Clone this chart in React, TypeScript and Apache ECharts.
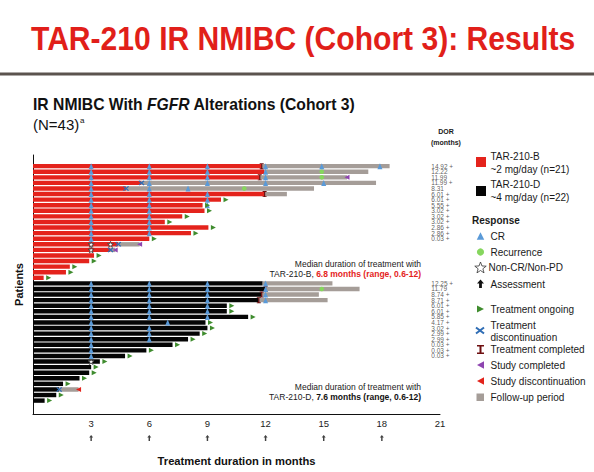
import React, { useEffect, useRef } from "react";
import * as echarts from "echarts";

// ---------- axis ----------
const xTickLabels = [3, 6, 9, 12, 15, 18, 21];
const assessmentMonths = [3, 6, 9, 12, 15, 18];

// ---------- TAR-210-B (~2 mg/day, n=21), rows 1..21 ----------
const treatB = [11.8, 11.95, 11.7, 5.6, 4.8, 11.95, 9.7, 8.75, 8.85, 7.7, 6.8, 9.05, 8.15, 6.0, 4.4, 4.0, 3.15, 2.9, 1.9, 1.7, 0.55];
const followB: (number | null)[] = [18.4, 17.3, 16.2, 17.7, 14.5, 13.1, null, null, null, null, null, null, null, null, 5.5, 4.24, null, null, null, null, null];
const crB: number[][] = [
  [3, 6, 9, 12, 14.9, 17.9],
  [3, 6, 9, 12],
  [3, 6, 9, 12],
  [3, 6, 9, 12, 15],
  [3, 6, 8],
  [3, 6, 9],
  [3, 6, 9],
  [3, 6, 9],
  [3, 6],
  [3, 6],
  [3, 6],
  [3, 6],
  [3, 6],
  [3],
  [], [], [], [], [], [], [],
];
const recurrenceB = [[2, 14.9], [3, 14.9], [5, 10.9]];
const nonCrB = [[15, 3], [15, 4.0], [16, 3]];
const discontB = [[4, 5.6], [5, 4.8], [15, 4.4], [16, 4.0]];
const completedB = [[1, 11.8], [3, 11.7], [6, 11.95]];
const studyCompletedB = [[3, 16.2], [15, 5.5], [16, 4.24]];
const ongoingB = [7, 8, 9, 10, 11, 12, 13, 14, 17, 18, 19, 20, 21];
const dorB = ["14.92 +", "12.22", "11.99", "11.99 +", "8.31", "6.01 +", "6.01 +", "5.55 +", "3.02 +", "3.02 +", "3.02 +", "2.86 +", "2.86 +", "0.03 +"];

// ---------- TAR-210-D (~4 mg/day, n=22), rows 1..22 ----------
const treatD = [11.85, 12.0, 11.8, 11.65, 10.0, 10.0, 11.1, 8.9, 9.0, 8.6, 8.0, 7.2, 5.85, 4.75, 3.45, 3.0, 2.9, 2.4, 1.55, 1.35, 1.2, 0.6];
const followD: (number | null)[] = [15.45, 16.85, 14.75, 15.2, null, null, null, null, null, null, null, null, null, null, null, null, null, null, null, 2.35, null, null];
const crD: number[][] = [
  [3, 6, 9, 12],
  [3, 6, 9, 12],
  [3, 6, 9, 12],
  [3, 6, 9, 12],
  [3, 6, 9],
  [3, 6, 9],
  [3, 6, 9],
  [3, 6.95],
  [3, 6],
  [3, 6],
  [3, 6],
  [3],
  [3],
  [3],
  [], [], [], [], [], [], [], [],
];
const recurrenceD = [[2, 14.9]];
const nonCrD = [[15, 3]];
const discontD = [[20, 1.35]];
const completedD = [[2, 12.0], [3, 11.8], [4, 11.65]];
const studyDiscD = [[20, 2.35]];
const ongoingD = [5, 6, 7, 8, 9, 10, 11, 12, 13, 14, 15, 16, 17, 18, 19, 21, 22];
const dorD = ["12.25 +", "11.79", "8.74 +", "8.71 +", "6.01 +", "6.01 +", "5.85 +", "4.17 +", "3.02 +", "2.99 +", "2.99 +", "0.03 +", "0.03 +", "0.03 +"];

// ---------- colours ----------
const RED = "#e4231c";
const BLACK = "#050505";
const GRAY = "#a59d98";
const CR_BLUE = "#5a9ad8";
const REC_GREEN = "#86d65e";
const ONGO_GREEN = "#3f8c2e";
const DISC_BLUE = "#2f6db5";
const COMP_RED = "#6e0f10";
const PURPLE = "#8e45b0";
const STUDY_RED = "#e2231b";
const FONT = "'Liberation Sans', Arial, sans-serif";

const N_B = treatB.length;
const rowB = (r: number) => r;
const rowD = (r: number) => N_B + r;

const STAR = "path://M50,0 L61,35 L98,35 L68,57 L79,91 L50,70 L21,91 L32,57 L2,35 L39,35 Z";
const CROSS = "path://M0,1.6 L1.6,0 L5,3.4 L8.4,0 L10,1.6 L6.6,5 L10,8.4 L8.4,10 L5,6.6 L1.6,10 L0,8.4 L3.4,5 Z";
const IBEAM = "path://M0,0 L10,0 L10,2 L6.5,2 L6.5,12 L10,12 L10,14 L0,14 L0,12 L3.5,12 L3.5,2 L0,2 Z";
const ARROW = "path://M5,0 L10,5 L6.8,5 L6.8,12 L3.2,12 L3.2,5 L0,5 Z";

function barSeries(name: string, data: number[][], color: string, z: number) {
  return {
    type: "custom",
    name,
    xAxisIndex: 0,
    yAxisIndex: 0,
    z,
    silent: true,
    encode: { x: [0, 1], y: 2 },
    data,
    renderItem: (_p: any, api: any) => {
      const s = api.coord([api.value(0), api.value(2)]);
      const e = api.coord([api.value(1), api.value(2)]);
      const h = 4.4;
      return {
        type: "rect",
        shape: { x: s[0], y: s[1] - h / 2, width: Math.max(e[0] - s[0], 0), height: h },
        style: { fill: color },
      };
    },
  };
}

function scatter(name: string, data: number[][], symbol: string, size: any, color: string, z: number, extra: any = {}) {
  return {
    type: "scatter",
    name,
    xAxisIndex: 0,
    yAxisIndex: 0,
    symbol,
    symbolSize: size,
    itemStyle: { color, opacity: 1 },
    z,
    silent: true,
    data,
    ...extra,
  };
}

const ev = (pairs: number[][], rowFn: (r: number) => number) => pairs.map(([r, m]) => [m, rowFn(r)]);

export default function App() {
  const ref = useRef<HTMLDivElement>(null);

  useEffect(() => {
    if (!ref.current) return;
    const chart = echarts.init(ref.current, undefined, { renderer: "svg" });

    const treatBarsB = treatB.map((v, i) => [0, v, rowB(i + 1)]);
    const treatBarsD = treatD.map((v, i) => [0, v, rowD(i + 1)]);
    const follow: number[][] = [];
    followB.forEach((v, i) => { if (v != null) follow.push([treatB[i], v, rowB(i + 1)]); });
    followD.forEach((v, i) => { if (v != null) follow.push([treatD[i], v, rowD(i + 1)]); });

    const cr: number[][] = [];
    crB.forEach((ms, i) => ms.forEach((m) => cr.push([m, rowB(i + 1)])));
    crD.forEach((ms, i) => ms.forEach((m) => cr.push([m, rowD(i + 1)])));

    const ongoing = [
      ...ongoingB.map((r) => [treatB[r - 1], rowB(r)]),
      ...ongoingD.map((r) => [treatD[r - 1], rowD(r)]),
    ];

    const dorData = [
      ...dorB.map((t, i) => ({ name: t, value: [20.55, rowB(i + 1)] })),
      ...dorD.map((t, i) => ({ name: t, value: [20.55, rowD(i + 1)] })),
    ];

    // legend graphics
    const LX = 480.5;
    const TX = 490.5;
    const txt = (text: string, x: number, y: number, extra: any = {}) => ({
      type: "text",
      silent: true,
      style: { text, x, y, fill: "#1a1a1a", fontSize: 10, fontFamily: FONT, verticalAlign: "middle", ...extra },
    });
    const tri = (cx: number, cy: number, w: number, h: number, dir: string, fill: string) => {
      let pts: number[][];
      if (dir === "up") pts = [[cx - w / 2, cy + h / 2], [cx + w / 2, cy + h / 2], [cx, cy - h / 2]];
      else if (dir === "right") pts = [[cx - w / 2, cy - h / 2], [cx - w / 2, cy + h / 2], [cx + w / 2, cy]];
      else pts = [[cx + w / 2, cy - h / 2], [cx + w / 2, cy + h / 2], [cx - w / 2, cy]];
      return { type: "polygon", silent: true, shape: { points: pts }, style: { fill } };
    };
    const starPts: number[][] = [];
    for (let k = 0; k < 10; k++) {
      const a = -Math.PI / 2 + (k * Math.PI) / 5;
      const r = k % 2 === 0 ? 6 : 2.5;
      starPts.push([LX + r * Math.cos(a), 268 + r * Math.sin(a)]);
    }

    const graphic: any[] = [
      {
        type: "text", silent: true, x: 31, y: 38, scaleX: 0.885, scaleY: 1,
        style: {
          text: "TAR-210 IR NMIBC (Cohort 3): Results", x: 0, y: 0,
          fill: "#e11f1a", fontSize: 34, fontWeight: "bold", fontFamily: FONT, verticalAlign: "middle",
        },
      },
      { type: "rect", silent: true, shape: { x: 0, y: 72.5, width: 594, height: 3 }, style: { fill: "#5b534e" } },
      {
        type: "text", silent: true,
        style: {
          x: 33, y: 104, verticalAlign: "middle",
          text: "{b|IR NMIBC With }{bi|FGFR}{b| Alterations (Cohort 3)}",
          rich: {
            b: { fontSize: 15.7, fontWeight: "bold", fontFamily: FONT, fill: "#111" },
            bi: { fontSize: 15.7, fontWeight: "bold", fontStyle: "italic", fontFamily: FONT, fill: "#111" },
          },
        },
      },
      txt("(N=43)", 33, 124, { fontSize: 15, fill: "#111" }),
      txt("a", 80, 120, { fontSize: 8, fill: "#111" }),
      txt("DOR", 446, 131, { fontSize: 7, fontWeight: "bold", align: "center" }),
      txt("(months)", 446, 142, { fontSize: 7, fontWeight: "bold", align: "center" }),
      txt("Median duration of treatment with", 421, 264, { fontSize: 8.5, align: "right" }),
      {
        type: "text", silent: true,
        style: {
          x: 421, y: 274, align: "right", verticalAlign: "middle",
          text: "{n|TAR-210-B, }{r|6.8 months (range, 0.6-12)}",
          rich: {
            n: { fontSize: 8.5, fontFamily: FONT, fill: "#1a1a1a" },
            r: { fontSize: 8.5, fontFamily: FONT, fontWeight: "bold", fill: RED },
          },
        },
      },
      txt("Median duration of treatment with", 421, 387, { fontSize: 8.5, align: "right" }),
      {
        type: "text", silent: true,
        style: {
          x: 421, y: 397, align: "right", verticalAlign: "middle",
          text: "{n|TAR-210-D, }{r|7.6 months (range, 0.6-12)}",
          rich: {
            n: { fontSize: 8.5, fontFamily: FONT, fill: "#1a1a1a" },
            r: { fontSize: 8.5, fontFamily: FONT, fontWeight: "bold", fill: "#111" },
          },
        },
      },
      // legend: arms
      { type: "rect", silent: true, shape: { x: 476, y: 157, width: 10, height: 10 }, style: { fill: RED } },
      txt("TAR-210-B", TX, 156),
      txt("~2 mg/day (n=21)", TX, 169),
      { type: "rect", silent: true, shape: { x: 476, y: 186, width: 10, height: 10 }, style: { fill: BLACK } },
      txt("TAR-210-D", TX, 184),
      txt("~4 mg/day (n=22)", TX, 197),
      txt("Response", 472, 220, { fontWeight: "bold" }),
      tri(LX, 236, 7.5, 7.5, "up", CR_BLUE),
      txt("CR", TX, 236),
      { type: "circle", silent: true, shape: { cx: LX, cy: 252, r: 3.6 }, style: { fill: REC_GREEN } },
      txt("Recurrence", TX, 252),
      { type: "polygon", silent: true, shape: { points: starPts }, style: { fill: "#fff", stroke: "#333", lineWidth: 0.8 } },
      txt("Non-CR/Non-PD", TX - 2, 267),
      {
        type: "polygon", silent: true,
        shape: { points: [[LX, 279.5], [LX + 3.5, 283.5], [LX + 1.4, 283.5], [LX + 1.4, 288], [LX - 1.4, 288], [LX - 1.4, 283.5], [LX - 3.5, 283.5]] },
        style: { fill: "#111" },
      },
      txt("Assessment", TX, 284),
      tri(LX, 309, 7, 7, "right", ONGO_GREEN),
      txt("Treatment ongoing", TX, 309),
      { type: "line", silent: true, shape: { x1: LX - 4.5, y1: 327.5, x2: LX + 3.5, y2: 333.5 }, style: { stroke: DISC_BLUE, lineWidth: 2 } },
      { type: "line", silent: true, shape: { x1: LX - 4.5, y1: 333.5, x2: LX + 3.5, y2: 327.5 }, style: { stroke: DISC_BLUE, lineWidth: 2 } },
      txt("Treatment", TX, 325),
      txt("discontinuation", TX, 337),
      {
        type: "polygon", silent: true,
        shape: { points: [[LX - 3.5, 345], [LX + 3.5, 345], [LX + 3.5, 346.5], [LX + 1, 346.5], [LX + 1, 352.5], [LX + 3.5, 352.5], [LX + 3.5, 354], [LX - 3.5, 354], [LX - 3.5, 352.5], [LX - 1, 352.5], [LX - 1, 346.5], [LX - 3.5, 346.5]] },
        style: { fill: COMP_RED },
      },
      txt("Treatment completed", TX, 349.5),
      tri(LX, 365, 7, 7.5, "left", PURPLE),
      txt("Study completed", TX, 365),
      tri(LX, 381, 7, 7.5, "left", STUDY_RED),
      txt("Study discontinuation", TX, 381),
      { type: "rect", silent: true, shape: { x: 476.5, y: 393.5, width: 7.5, height: 7.5 }, style: { fill: GRAY } },
      txt("Follow-up period", TX, 397),
    ];

    chart.setOption({
      animation: false,
      backgroundColor: "#fff",
      textStyle: { fontFamily: FONT },
      grid: [
        { left: 33, top: 155, width: 407, height: 259 },
        { left: 33, top: 432, width: 407, height: 12 },
      ],
      xAxis: [
        {
          type: "value", gridIndex: 0, min: 0, max: 21, interval: 3,
          name: "Treatment duration in months", nameLocation: "middle", nameGap: 41,
          nameTextStyle: { fontSize: 11.2, fontWeight: "bold", color: "#111", fontFamily: FONT },
          axisLine: { show: true, onZero: false, lineStyle: { color: "#111", width: 1 } },
          axisTick: { show: false },
          splitLine: { show: false },
          axisLabel: {
            fontSize: 9.5, color: "#222", margin: 4, fontFamily: FONT,
            formatter: (v: number) => (xTickLabels.indexOf(v) >= 0 ? String(v) : ""),
          },
        },
        { type: "value", gridIndex: 1, min: 0, max: 21, show: false },
      ],
      yAxis: [
        {
          type: "value", gridIndex: 0, min: -1, max: 45.4, inverse: true,
          name: "Patients", nameLocation: "middle", nameGap: 9, nameRotate: 90,
          nameTextStyle: { fontSize: 11, fontWeight: "bold", color: "#111", fontFamily: FONT },
          axisLine: { show: true, onZero: false, lineStyle: { color: "#111", width: 1 } },
          axisTick: { show: false },
          axisLabel: { show: false },
          splitLine: { show: false },
        },
        { type: "value", gridIndex: 1, min: 0, max: 1, show: false },
      ],
      series: [
        barSeries("TAR-210-B", treatBarsB, RED, 2),
        barSeries("TAR-210-D", treatBarsD, BLACK, 2),
        barSeries("Follow-up period", follow, GRAY, 2),
        scatter("Treatment completed", [...ev(completedB, rowB), ...ev(completedD, rowD)], IBEAM, [4, 6], COMP_RED, 4),
        scatter("Treatment discontinuation", [...ev(discontB, rowB), ...ev(discontD, rowD)], CROSS, [6, 5], DISC_BLUE, 5),
        scatter("Non-CR/Non-PD", [...ev(nonCrB, rowB), ...ev(nonCrD, rowD)], STAR, 6, "#fff", 5, {
          itemStyle: { color: "#fff", borderColor: "#3a3a3a", borderWidth: 0.8, opacity: 1 },
        }),
        scatter("Recurrence", [...ev(recurrenceB, rowB), ...ev(recurrenceD, rowD)], "circle", 4.6, REC_GREEN, 6),
        scatter("CR", cr, "triangle", [5, 6], CR_BLUE, 6),
        scatter("Treatment ongoing", ongoing, "triangle", [5, 5], ONGO_GREEN, 7, { symbolRotate: -90, symbolOffset: [5, 0] }),
        scatter("Study completed", ev(studyCompletedB, rowB), "triangle", [5, 5], PURPLE, 7, { symbolRotate: 90 }),
        scatter("Study discontinuation", ev(studyDiscD, rowD), "triangle", [5, 5], STUDY_RED, 7, { symbolRotate: 90 }),
        {
          type: "scatter", name: "DOR", xAxisIndex: 0, yAxisIndex: 0, silent: true,
          symbolSize: 0, data: dorData,
          label: { show: true, position: "right", distance: 0, formatter: "{b}", fontSize: 6.5, color: "#333", fontFamily: FONT },
        },
        {
          type: "scatter", name: "Assessment", xAxisIndex: 1, yAxisIndex: 1, silent: true,
          symbol: ARROW, symbolSize: [4, 6], itemStyle: { color: "#111" },
          data: assessmentMonths.map((m) => [m, 0.5]),
        },
      ],
      graphic,
    });

    return () => chart.dispose();
  }, []);

  return (
    <div
      ref={ref}
      style={{ position: "fixed", left: 0, top: 0, width: 594, height: 472, background: "#fff" }}
    />
  );
}
